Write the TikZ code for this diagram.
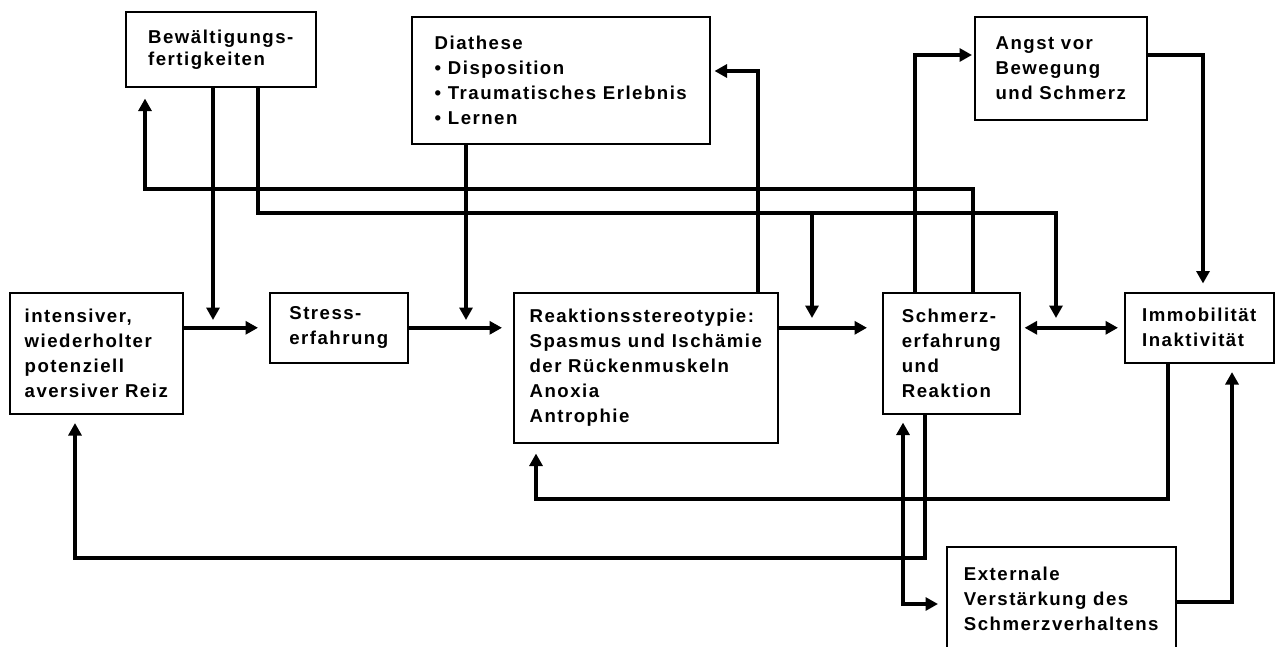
\documentclass[tikz,border=0pt]{standalone}
\usepackage{fontspec}
\setmainfont{Liberation Sans}
\newfontfamily\boxfont{Liberation Sans}[LetterSpace=8]
\usetikzlibrary{arrows.meta}

\begin{document}
\begin{tikzpicture}[
    x=0.02cm, y=-0.02cm,
    box/.style 2 args={draw, line width=0.9pt, anchor=north west, align=left,
                minimum width=#1, minimum height=#2, inner sep=1pt,
                font=\boxfont\bfseries\fontsize{10.6}{14.2}\selectfont},
    arr/.style={-{Triangle[length=0.25cm, width=0.26cm]}, line width=2.3pt,
                shorten >=0.17cm},
    arr2/.style={{Triangle[length=0.25cm, width=0.26cm]}-{Triangle[length=0.25cm, width=0.26cm]},
                line width=2.3pt}
]
    \useasboundingbox (0,0) rectangle (1281,646);

    % obere Reihe
    \node[box={3.8cm}{1.5cm}, font=\boxfont\bfseries\fontsize{10.6}{12.5}\selectfont]
        (bew) at (125,11) {Bewältigungs-\\fertigkeiten};
    \node[box={5.96cm}{2.54cm}] (dia) at (411,16)
        {Diathese\\• Disposition\\• Traumatisches Erlebnis\\• Lernen};
    \node[box={3.44cm}{2.06cm}] (angst) at (974,16) {Angst vor\\Bewegung\\und Schmerz};

    % mittlere Reihe
    \node[box={3.46cm}{2.42cm}] (reiz) at (9,292)
        {intensiver,\\wiederholter\\potenziell\\aversiver Reiz};
    \node[box={2.76cm}{1.4cm}] (stress) at (269,292) {Stress-\\erfahrung};
    \node[box={5.28cm}{3.0cm}] (reak) at (513,292)
        {Reaktionsstereotypie:\\Spasmus und Ischämie\\der Rückenmuskeln\\Anoxia\\Antrophie};
    \node[box={2.74cm}{2.42cm}] (schmerz) at (882,292) {Schmerz-\\erfahrung\\und\\Reaktion};
    \node[box={2.98cm}{1.4cm}] (immob) at (1124,292) {Immobilität\\Inaktivität};

    % untere Reihe
    \node[box={4.58cm}{2.1cm}] (ext) at (946,546)
        {Externale\\Verstärkung des\\Schmerzverhaltens};

    % Hilfspunkte
    \coordinate (mBew) at (213,327);
    \coordinate (mDia) at (466,327);
    \coordinate (mSch) at (812,327);
    \coordinate (mImm) at (1056,327);
    \coordinate (b1) at (258,213);
    \coordinate (b2) at (1056,213);
    \coordinate (r1) at (758,71);
    \coordinate (s1) at (973,189);
    \coordinate (s2) at (145,189);
    \coordinate (s3) at (915,55);
    \coordinate (s4) at (925,558);
    \coordinate (s5) at (75,558);
    \coordinate (s6) at (903,604);
    \coordinate (a1) at (1203,55);
    \coordinate (i1) at (1168,499);
    \coordinate (i2) at (536,499);
    \coordinate (e1) at (1232,602);

    % Hauptkette
    \draw[arr, shorten >=0.22cm] (reiz.east |- stress.west) -- (stress.west);
    \draw[arr, shorten >=0.22cm] (stress.east) -- (stress.east -| reak.west);
    \draw[arr, shorten >=0.3cm] (stress.east -| reak.east) -- (stress.east -| schmerz.west);
    \draw[arr2, shorten <=0.08cm, shorten >=0.12cm] (stress.east -| schmerz.east) -- (immob.west);

    % Einfluesse von oben
    \draw[arr, shorten >=0.14cm] (bew.south -| mBew) -- (mBew);
    \draw[arr, shorten >=0.14cm] (dia.south -| mDia) -- (mDia);
    \draw[arr, shorten >=0.18cm] (bew.south -| b1) -- (b1) -- (b2) -- (mImm);
    \draw[arr, shorten >=0.18cm] (mSch |- b1) -- (mSch);
    \draw[arr, shorten >=0.08cm] (reak.north -| r1) -- (r1) -- (r1 -| dia.east);
    \draw[arr, shorten >=0.22cm] (schmerz.north -| s1) -- (s1) -- (s2) -- (s2 |- bew.south);
    \draw[arr, shorten >=0.04cm] (schmerz.north -| s3) -- (s3) -- (s3 -| angst.west);
    \draw[arr] (a1 -| angst.east) -- (a1) -- (a1 |- immob.north);

    % Rueckkopplungen unten
    \draw[arr, shorten >=0.2cm] (immob.south -| i1) -- (i1) -- (i2) -- (i2 |- reak.south);
    \draw[arr] (schmerz.south -| s4) -- (s4) -- (s5) -- (s5 |- reiz.south);
    \draw[arr2, shorten <=0.16cm, shorten >=0.16cm] (schmerz.south -| s6) -- (s6) -- (s6 -| ext.west);
    \draw[arr] (e1 -| ext.east) -- (e1) -- (e1 |- immob.south);
\end{tikzpicture}
\end{document}
